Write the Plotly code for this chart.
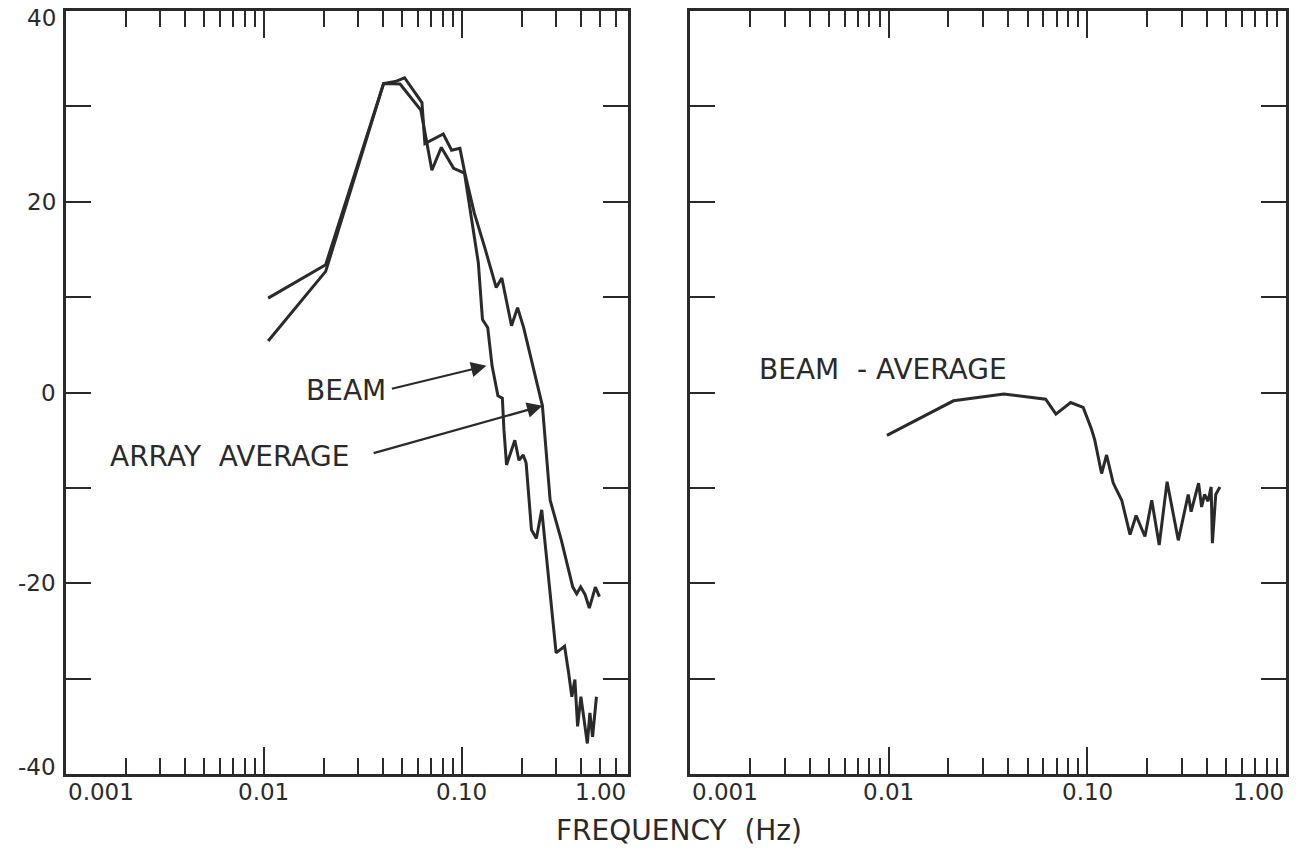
import numpy as np
import plotly.graph_objects as go

# ---------------- data ----------------
# Left panel: spectra (dB) vs frequency (Hz)
avg_freq = [0.0105, 0.0205, 0.0402, 0.046, 0.0513, 0.0628, 0.065, 0.0805, 0.0887,
            0.0977, 0.1035, 0.1155, 0.130, 0.149, 0.159, 0.178, 0.191, 0.205,
            0.255, 0.274, 0.279, 0.318, 0.363, 0.380, 0.398, 0.419, 0.440, 0.472, 0.495]
avg_db = [9.9, 13.4, 32.4, 32.6, 33.0, 30.4, 26.1, 27.1, 25.4,
          25.6, 23.0, 18.8, 15.3, 11.0, 12.0, 7.0, 8.9, 6.8,
          -1.4, -9.0, -11.3, -15.5, -20.4, -21.1, -20.4, -21.2, -22.6, -20.4, -21.4]

beam_freq = [0.0105, 0.0205, 0.0402, 0.0487, 0.062, 0.0705, 0.0787, 0.0908, 0.103,
             0.121, 0.127, 0.135, 0.142, 0.152, 0.160, 0.163, 0.168, 0.185, 0.194,
             0.204, 0.211, 0.2245, 0.2377, 0.253, 0.299, 0.330, 0.346, 0.359, 0.372,
             0.384, 0.399, 0.413, 0.430, 0.443, 0.457, 0.478]
beam_db = [5.4, 12.7, 32.4, 32.35, 29.6, 23.3, 25.7, 23.5, 23.0,
           13.6, 7.65, 6.8, 2.8, -0.35, -0.6, -3.9, -7.6, -5.0, -7.1,
           -6.55, -7.4, -14.4, -15.3, -12.3, -27.3, -26.6, -29.4, -31.9, -30.1,
           -35.0, -31.9, -34.0, -36.8, -33.6, -36.1, -31.9]

# Right panel: beam minus average (dB)
diff_freq = [0.0098, 0.0212, 0.038, 0.0617, 0.0695, 0.0824, 0.0953, 0.105, 0.109,
             0.118, 0.125, 0.135, 0.149, 0.164, 0.176, 0.195, 0.211, 0.230, 0.252,
             0.287, 0.322, 0.333, 0.363, 0.376, 0.389, 0.405, 0.420, 0.426, 0.443, 0.465]
diff_db = [-4.5, -0.87, -0.17, -0.7, -2.27, -1.05, -1.57, -3.85, -5.0,
           -8.5, -6.55, -9.5, -11.3, -14.9, -12.9, -15.1, -11.3, -16.0, -9.35,
           -15.5, -10.7, -12.5, -9.5, -12.0, -10.7, -11.4, -9.9, -15.8, -10.7, -9.9]

y_ticks = [-40, -30, -20, -10, 0, 10, 20, 30, 40]
y_labels = ["-40", "", "-20", "", "0", "", "20", "", "40"]
x_major = [0.001, 0.01, 0.1, 1.0]
x_major_labels = ["0.001", "0.01", "0.10", "1.00"]
x_minor = [m * d for d in (0.001, 0.01, 0.1) for m in range(2, 10)]

# ---------------- style ----------------
INK = "#2a2a2a"
FONT = "DejaVu Sans, Liberation Sans, Arial, sans-serif"
W, H = 1305, 860
L1, R1 = 66, 628
L2, R2 = 690, 1286
TOP, BOT = 11, 774
TICK_FS = 23
LABEL_FS = 28

fig = go.Figure()
fig.add_trace(go.Scatter(x=avg_freq, y=avg_db, mode="lines", xaxis="x", yaxis="y",
                         line=dict(color=INK, width=3), showlegend=False))
fig.add_trace(go.Scatter(x=beam_freq, y=beam_db, mode="lines", xaxis="x", yaxis="y",
                         line=dict(color=INK, width=3), showlegend=False))
fig.add_trace(go.Scatter(x=diff_freq, y=diff_db, mode="lines", xaxis="x2", yaxis="y2",
                         line=dict(color=INK, width=3), showlegend=False))

def xaxis(dom, rng, anchor):
    return dict(type="log", domain=dom, range=rng, anchor=anchor,
                tickmode="array", tickvals=x_major, showticklabels=False,
                ticks="inside", ticklen=27, tickwidth=2.4, tickcolor=INK,
                minor=dict(tickmode="array", tickvals=x_minor, ticks="inside",
                           ticklen=16, tickwidth=2.4, tickcolor=INK),
                showline=True, linewidth=3, linecolor=INK, mirror="allticks",
                showgrid=False, zeroline=False, fixedrange=True)

def yaxis(anchor):
    return dict(domain=[1 - BOT / H, 1 - TOP / H], range=[-40, 40], anchor=anchor,
                tickmode="array", tickvals=y_ticks, showticklabels=False,
                ticks="inside", ticklen=25, tickwidth=2.4, tickcolor=INK,
                showline=True, linewidth=3, linecolor=INK, mirror="allticks",
                showgrid=False, zeroline=False, fixedrange=True)

fig.update_layout(
    width=W, height=H, margin=dict(l=0, r=0, t=0, b=0),
    paper_bgcolor="white", plot_bgcolor="white",
    font=dict(family=FONT, color=INK, size=TICK_FS),
    xaxis=xaxis([L1 / W, R1 / W], [-3, np.log10(0.69)], "y"),
    yaxis=yaxis("x"),
    xaxis2=xaxis([L2 / W, R2 / W], [-3, 0], "y2"),
    yaxis2=yaxis("x2"),
)

ann = []
lab_y = 1 - 792 / H
# x tick labels
for xr in ("x", "x2"):
    for v, t in zip(x_major, x_major_labels):
        if v == 0.001:
            ann.append(dict(xref=xr, yref="paper", x=np.log10(v), y=lab_y, text=t,
                            xanchor="left", yanchor="middle", showarrow=False,
                            font=dict(size=TICK_FS)))
        elif v == 1.0:
            ann.append(dict(xref=xr + " domain", yref="paper", x=1.0, y=lab_y, text=t,
                            xanchor="right", yanchor="middle", showarrow=False,
                            font=dict(size=TICK_FS)))
        else:
            ann.append(dict(xref=xr, yref="paper", x=np.log10(v), y=lab_y, text=t,
                            xanchor="center", yanchor="middle", showarrow=False,
                            font=dict(size=TICK_FS)))
# y tick labels (left panel only)
for v, t in zip(y_ticks, y_labels):
    if not t:
        continue
    shift = -7 if v == 40 else (7 if v == -40 else 0)
    ann.append(dict(xref="paper", yref="y", x=58 / W, y=v, text=t, yshift=shift,
                    xanchor="right", yanchor="middle", showarrow=False,
                    font=dict(size=TICK_FS)))
# axis title
ann.append(dict(xref="paper", yref="paper", x=679 / W, y=1 - 830 / H,
                text="FREQUENCY  (Hz)", showarrow=False, xanchor="center",
                yanchor="middle", font=dict(size=LABEL_FS)))
# curve labels
ann.append(dict(xref="x", yref="y", x=np.log10(0.0261), y=0.2, text="BEAM",
                showarrow=False, xanchor="center", yanchor="middle",
                font=dict(size=LABEL_FS)))
ann.append(dict(xref="x", yref="y", x=np.log10(0.0067), y=-6.7, text="ARRAY  AVERAGE",
                showarrow=False, xanchor="center", yanchor="middle",
                font=dict(size=LABEL_FS)))
ann.append(dict(xref="x2", yref="y2", x=np.log10(0.0094), y=2.4, text="BEAM  - AVERAGE",
                showarrow=False, xanchor="center", yanchor="middle",
                font=dict(size=LABEL_FS)))
# arrows
ann.append(dict(xref="x", yref="y", x=np.log10(0.133), y=2.8, text="",
                axref="x", ayref="y", ax=np.log10(0.0435), ay=0.35,
                showarrow=True, arrowhead=2, arrowsize=1.4, arrowwidth=2.2,
                arrowcolor=INK))
ann.append(dict(xref="x", yref="y", x=np.log10(0.255), y=-1.4, text="",
                axref="x", ayref="y", ax=np.log10(0.0352), ay=-6.4,
                showarrow=True, arrowhead=2, arrowsize=1.4, arrowwidth=2.2,
                arrowcolor=INK))
fig.update_layout(annotations=ann)

fig.write_html("out.html")
